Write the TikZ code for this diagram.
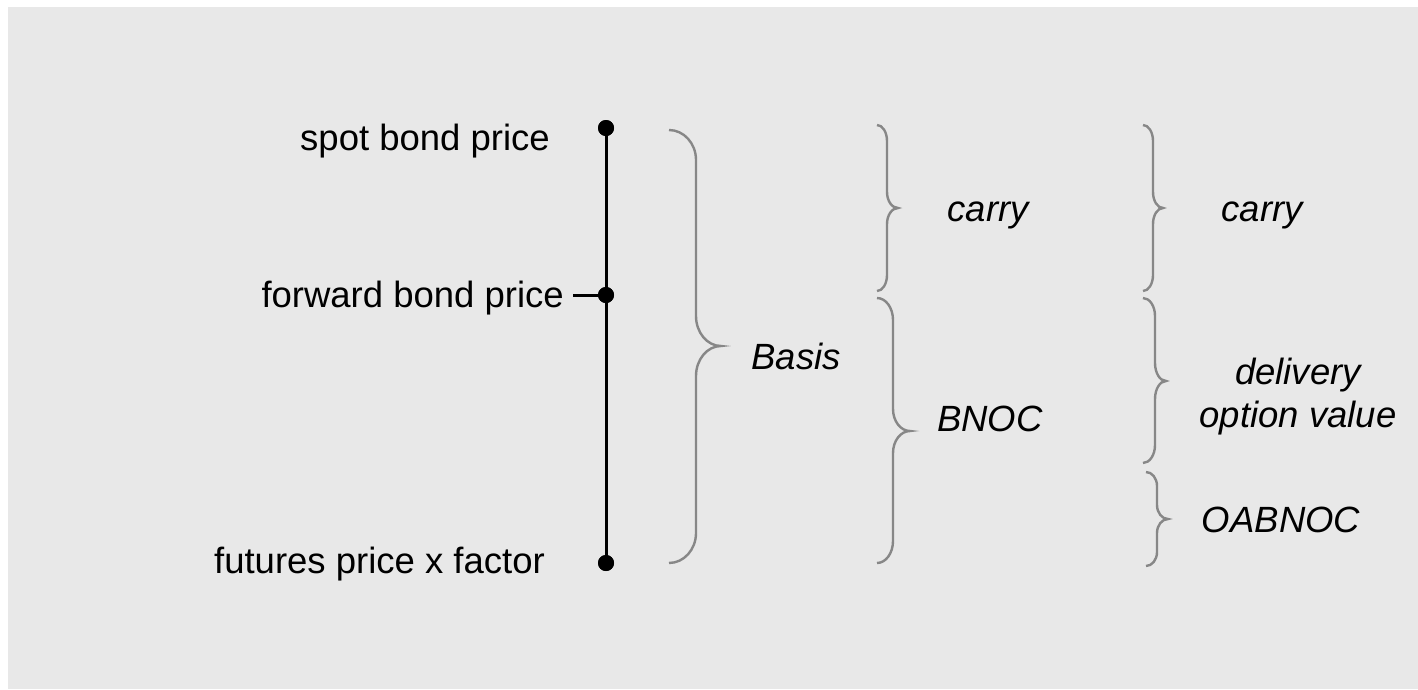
\documentclass[tikz,border=0pt]{standalone}
\usepackage{fontspec}
\setmainfont{Liberation Sans}
\definecolor{bggray}{HTML}{E8E8E8}
\definecolor{bracegray}{HTML}{878787}
\newcommand\mybrace[7]{% #1 x0, #2 x1, #3 xt, #4 ytop, #5 ymid, #6 ybot, #7 ry
  \draw[bracestyle] (#1,#4) .. controls ({#1+0.552*(#2-#1)},#4) and (#2,{#4+0.448*#7}) .. (#2,{#4+#7})
    -- (#2,{#5-#7}) .. controls (#2,{#5-0.448*#7}) and ({#2+0.448*(#3-#2)},#5) .. (#3,#5)
    .. controls ({#2+0.448*(#3-#2)},#5) and (#2,{#5+0.448*#7}) .. (#2,{#5+#7})
    -- (#2,{#6-#7}) .. controls (#2,{#6-0.448*#7}) and ({#1+0.552*(#2-#1)},#6) .. (#1,#6);
}
\begin{document}
\begin{tikzpicture}[x=1pt,y=-1pt,
  bracestyle/.style={draw=bracegray,line width=2.4pt},
  dotnode/.style={circle,fill=black,inner sep=0pt,minimum size=16pt},
  lbl/.style={inner sep=0pt,font=\fontsize{36.5}{43}\selectfont},
  ilbl/.style={lbl,font=\fontsize{36.5}{43}\selectfont\itshape,align=center}]
\useasboundingbox (0,0) rectangle (1418,689);
\fill[white] (0,0) rectangle (1418,689);
\fill[bggray] (8,7) rectangle (1418,689);
% main scale
\node[dotnode] (top) at (606,128) {};
\node[dotnode] (mid) at (606,295) {};
\node[dotnode] (bot) at (606,563) {};
\coordinate (tickL) at (573,295);
\draw[line width=3pt] (top.center) -- (bot.center);
\draw[line width=3pt] (tickL) -- (mid.center);
\node[dotnode] at (top) {};
\node[dotnode] at (mid) {};
\node[dotnode] at (bot) {};
% left labels
\node[lbl,anchor=east] (spot) at (550,141) {spot bond price};
\node[lbl,anchor=east] (fwd) at (564,298) {forward bond price};
\node[lbl,anchor=east] (fut) at (545,564) {futures price x factor};
% braces
\mybrace{669}{696}{721}{130}{346}{563}{30}
\mybrace{877}{887}{898}{125}{208}{291}{16}
\mybrace{877}{893}{910}{298}{431}{563}{22}
\mybrace{1143}{1153}{1163}{125}{208}{291}{16}
\mybrace{1143}{1155}{1166}{298}{381}{463}{18}
\mybrace{1146}{1157}{1168}{472}{519}{566}{14}
% brace labels
\node[ilbl] (basis) at (796,356) {Basis};
\node[ilbl] (carryA) at (988,215) {carry};
\node[ilbl] (bnoc) at (990,419) {BNOC};
\node[ilbl] (carryB) at (1262,215) {carry};
\node[ilbl] (dov) at (1298,397) {delivery\\option value};
\node[ilbl] (oab) at (1281,520) {OABNOC};
\end{tikzpicture}
\end{document}
